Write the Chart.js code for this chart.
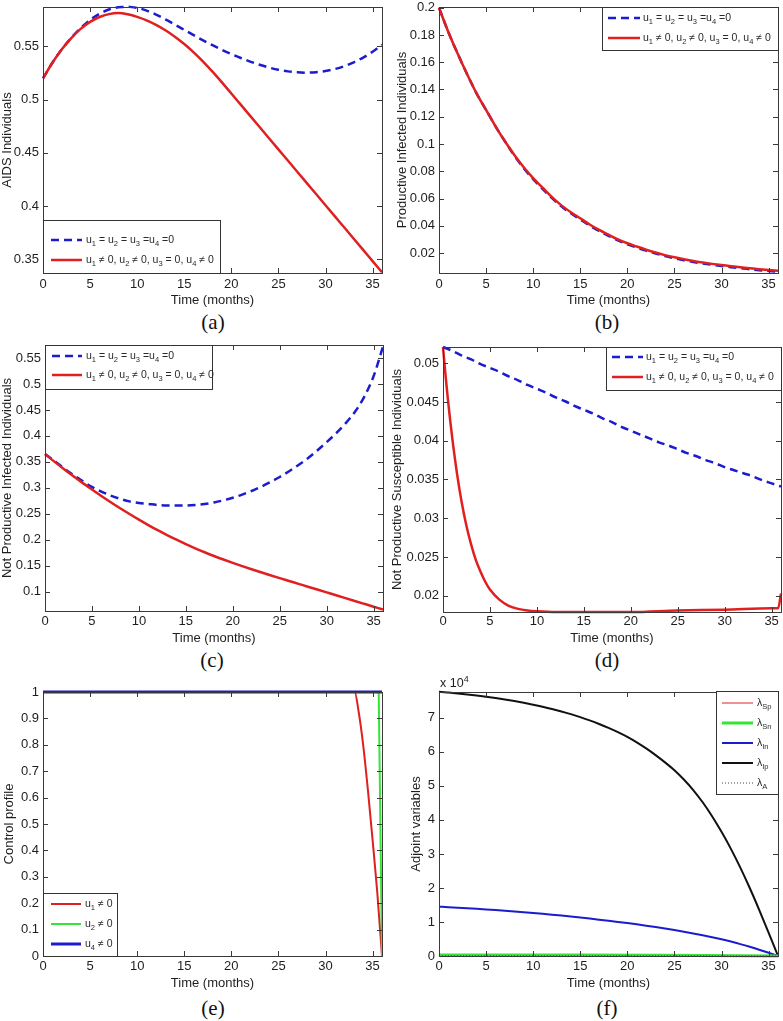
<!DOCTYPE html>
<html>
<head>
<meta charset="utf-8">
<script src="https://cdn.jsdelivr.net/npm/chart.js@4.4.1/dist/chart.umd.min.js"></script>
<style>
  body { margin: 0; background: #fff; width: 783px; height: 1021px; position: relative; overflow: hidden; }
  canvas { position: absolute; }
  .tag { position: absolute; font-family: 'Liberation Serif', 'Times New Roman', serif; font-size: 21px; color: #111;
         transform: translate(-50%, -50%); }
</style>
</head>
<body>
<div class="tag" style="left:213px;top:322px">(a)</div>
<div class="tag" style="left:607px;top:322px">(b)</div>
<div class="tag" style="left:212px;top:660px">(c)</div>
<div class="tag" style="left:607px;top:660px">(d)</div>
<div class="tag" style="left:213px;top:1008px">(e)</div>
<div class="tag" style="left:607px;top:1008px">(f)</div>
<script>
// time axis, months 0..36
const months = [0,1,2,3,4,5,6,7,8,9,10,11,12,13,14,15,16,17,18,19,20,21,22,23,24,25,26,27,28,29,30,31,32,33,34,35,36];
const monthTicks = [0,5,10,15,20,25,30,35];

// (a) AIDS individuals
const aidsNoControl = [0.520,0.5346,0.5472,0.5580,0.5672,0.5748,0.5806,0.5846,0.5868,0.5873,0.5862,0.5836,0.5799,0.5754,0.5705,0.5655,0.5605,0.5557,0.5511,0.5468,0.5428,0.5391,0.5357,0.5327,0.5301,0.5280,0.5265,0.5256,0.5253,0.5257,0.5268,0.5287,0.5314,0.5350,0.5395,0.5450,0.5515];
const aidsControl = [0.520,0.5346,0.5472,0.5578,0.5664,0.5730,0.5776,0.5803,0.5813,0.5801,0.5777,0.5744,0.5702,0.5651,0.5591,0.5522,0.5444,0.5357,0.5262,0.5161,0.5057,0.4952,0.4847,0.4742,0.4637,0.4532,0.4427,0.4322,0.4217,0.4112,0.4007,0.3902,0.3797,0.3692,0.3587,0.3482,0.3377];
const aidsTicks = [0.35,0.4,0.45,0.5,0.55];

// (b) productive infected
const prodNoControl = [0.200,0.182,0.166,0.151,0.137,0.125,0.113,0.102,0.0915,0.0823,0.0742,0.0671,0.0603,0.0543,0.0492,0.0447,0.0402,0.0362,0.0327,0.0293,0.0265,0.0241,0.0218,0.0197,0.0178,0.0162,0.0148,0.0135,0.0124,0.0114,0.0105,0.0097,0.0089,0.0082,0.0075,0.0069,0.0063];
const prodControl = [0.200,0.182,0.166,0.151,0.137,0.125,0.113,0.102,0.092,0.083,0.075,0.068,0.061,0.055,0.050,0.0455,0.041,0.037,0.0335,0.030,0.0272,0.0248,0.0225,0.0204,0.0185,0.0169,0.0155,0.0142,0.0131,0.0121,0.0112,0.0104,0.0096,0.0089,0.0082,0.0076,0.0071];
const prodTicks = [0.02,0.04,0.06,0.08,0.1,0.12,0.14,0.16,0.18,0.2];

// (c) not productive infected
const npInfNoControl = [0.365,0.352,0.338,0.325,0.313,0.302,0.293,0.285,0.279,0.274,0.271,0.269,0.267,0.266,0.266,0.266,0.267,0.269,0.272,0.276,0.281,0.287,0.294,0.302,0.311,0.321,0.332,0.344,0.357,0.372,0.388,0.405,0.424,0.446,0.475,0.515,0.572];
const npInfControl = [0.365,0.3505,0.3364,0.3228,0.3096,0.2968,0.2844,0.2724,0.2608,0.2496,0.2388,0.2284,0.2185,0.2091,0.2002,0.1917,0.1837,0.1761,0.1689,0.1621,0.1556,0.1494,0.1434,0.1376,0.1319,0.1263,0.1208,0.1153,0.1098,0.1043,0.0988,0.0933,0.0878,0.0823,0.0768,0.0713,0.0658];
const npInfTicks = [0.1,0.15,0.2,0.25,0.3,0.35,0.4,0.45,0.5,0.55];

// (d) not productive susceptible
const npSusNoControl = [0.0521,0.0516,0.0510,0.0505,0.0499,0.0494,0.0489,0.0483,0.0478,0.0472,0.0467,0.0462,0.0456,0.0451,0.0445,0.0440,0.0435,0.0429,0.0424,0.0418,0.0413,0.0408,0.0403,0.0398,0.0394,0.0389,0.0384,0.0380,0.0375,0.0371,0.0366,0.0362,0.0358,0.0354,0.0349,0.0345,0.0341];
const npSusCtrlTime = [0,0.25,0.5,0.75,1,1.5,2,2.5,3,3.5,4,4.5,5,6,7,8,9,10,12,15,20,25,30,35,35.7,36];
const npSusControl = [0.0521,0.0487,0.0456,0.0428,0.0402,0.0357,0.0320,0.0290,0.0266,0.0246,0.0231,0.0218,0.0208,0.0195,0.0187,0.0183,0.0181,0.0180,0.0179,0.0179,0.0179,0.0181,0.0182,0.0184,0.0184,0.0203];
const npSusTicks = [0.02,0.025,0.03,0.035,0.04,0.045,0.05];

// (e) control profiles
const u1Time = [0,33.1,33.5,34,34.5,35,35.5,36];
const u1Vals = [1,1,0.93,0.8,0.63,0.44,0.24,0];
const u2Time = [0,35.65,36];
const u2Vals = [1,1,0];
const u4Time = [0,36];
const u4Vals = [1,1];
const ctrlTicks = [0,0.1,0.2,0.3,0.4,0.5,0.6,0.7,0.8,0.9,1];

// (f) adjoint variables, in units of 10^4
const lamIp = [7.77,7.746,7.719,7.689,7.656,7.620,7.581,7.539,7.493,7.443,7.388,7.328,7.262,7.189,7.109,7.021,6.925,6.820,6.705,6.579,6.439,6.279,6.101,5.905,5.691,5.459,5.189,4.879,4.519,4.109,3.649,3.149,2.599,1.999,1.359,0.689,0];
const lamIn = [1.45,1.436,1.421,1.405,1.388,1.370,1.351,1.331,1.310,1.288,1.265,1.240,1.214,1.187,1.159,1.130,1.100,1.069,1.036,1.002,0.967,0.930,0.891,0.850,0.807,0.762,0.714,0.663,0.609,0.552,0.492,0.424,0.350,0.270,0.184,0.094,0];
const flatTime = [0,12,24,36];
const lamSp = [0.01,0.01,0.01,0];
const lamSn = [0.03,0.03,0.025,0];
const lamA = [0.005,0.005,0.005,0];
const adjTicks = [0,1,2,3,4,5,6,7];

const FONT = "'Liberation Sans', Arial, Helvetica, sans-serif";
const TXT = '#1e1e1e';
const BLUE = '#1c1ccf', RED = '#e02020', GREEN = '#33e633', BLACK = '#111111';

function pts(xs, ys) { return xs.map((x, i) => ({ x: x, y: ys[i] })); }
function fmt(v) { return String(Math.round(v * 10000) / 10000); }

// draw text where _x / _{xy} is a subscript and ^x a superscript
function drawRich(ctx, text, x, y, size) {
  const re = /([_^])(\{[^}]*\}|.)/g;
  const parts = [];
  let last = 0, m;
  while ((m = re.exec(text))) {
    if (m.index > last) parts.push([text.slice(last, m.index), 0]);
    let s = m[2];
    if (s[0] === '{') s = s.slice(1, -1);
    parts.push([s, m[1] === '_' ? 1 : -1]);
    last = re.lastIndex;
  }
  if (last < text.length) parts.push([text.slice(last), 0]);
  ctx.textBaseline = 'middle';
  ctx.textAlign = 'left';
  parts.forEach(([s, k]) => {
    const fs = k ? size * 0.72 : size;
    ctx.font = fs + 'px ' + FONT;
    ctx.fillText(s, x, y + k * size * 0.38);
    x += ctx.measureText(s).width;
  });
}

// matlab-like box with inward ticks, plus a boxed legend inside the axes
const frame = {
  id: 'frame',
  afterDraw(chart, args, opts) {
    const { ctx, chartArea: a, scales } = chart;
    const [ox, oy] = opts.origin;
    ctx.save();
    ctx.strokeStyle = '#3a3a3a';
    ctx.lineWidth = 1;
    ctx.beginPath();
    const tk = 5;
    scales.x.ticks.forEach(t => {
      const px = Math.round(scales.x.getPixelForValue(t.value)) + 0.5;
      ctx.moveTo(px, a.bottom); ctx.lineTo(px, a.bottom - tk);
      ctx.moveTo(px, a.top); ctx.lineTo(px, a.top + tk);
    });
    scales.y.ticks.forEach(t => {
      const py = Math.round(scales.y.getPixelForValue(t.value)) + 0.5;
      ctx.moveTo(a.left, py); ctx.lineTo(a.left + tk, py);
      ctx.moveTo(a.right, py); ctx.lineTo(a.right - tk, py);
    });
    ctx.stroke();
    ctx.strokeRect(Math.round(a.left) + 0.5, Math.round(a.top) + 0.5, Math.round(a.right - a.left), Math.round(a.bottom - a.top));

    const lg = opts.legend;
    if (lg) {
      const [l, t, r, b] = lg.box;
      ctx.fillStyle = '#fff';
      ctx.fillRect(l - ox, t - oy, r - l, b - t);
      ctx.strokeStyle = '#333';
      ctx.lineWidth = 1;
      ctx.setLineDash([]);
      ctx.strokeRect(l - ox + 0.5, t - oy + 0.5, r - l - 1, b - t - 1);
      lg.items.forEach((it, i) => {
        const ds = chart.data.datasets[it.ds];
        const y = lg.rows[i] - oy;
        ctx.beginPath();
        ctx.strokeStyle = ds.borderColor;
        ctx.lineWidth = ds.borderWidth;
        ctx.setLineDash(ds.borderDash || []);
        ctx.moveTo(lg.sample[0] - ox, y);
        ctx.lineTo(lg.sample[1] - ox, y);
        ctx.stroke();
        ctx.setLineDash([]);
        ctx.fillStyle = '#2a2a2a';
        drawRich(ctx, it.label, lg.textX - ox, y, lg.size);
      });
    }
    if (opts.extra) {
      ctx.fillStyle = TXT;
      drawRich(ctx, opts.extra.text, opts.extra.x - ox, opts.extra.y - oy, opts.extra.size);
    }
    ctx.restore();
  }
};

function makePanel(p) {
  const [cx, cy, cw, ch] = p.box;
  const [L, T, R, B] = p.area;
  const cv = document.createElement('canvas');
  cv.width = cw; cv.height = ch;
  cv.style.left = cx + 'px'; cv.style.top = cy + 'px';
  cv.style.width = cw + 'px'; cv.style.height = ch + 'px';
  document.body.appendChild(cv);
  const font = { family: FONT, size: 13 };
  new Chart(cv, {
    type: 'line',
    data: { datasets: p.datasets },
    options: {
      responsive: false,
      animation: false,
      events: [],
      layout: { padding: { top: T - cy, right: cx + cw - R, left: 0, bottom: 0 } },
      elements: { point: { radius: 0 }, line: { cubicInterpolationMode: 'monotone' } },
      plugins: {
        legend: { display: false },
        tooltip: { enabled: false },
        frame: { origin: [cx, cy], legend: p.legend, extra: p.extra }
      },
      scales: {
        x: {
          type: 'linear', min: 0, max: 36,
          grid: { display: false, drawTicks: false }, border: { display: false },
          afterBuildTicks: s => { s.ticks = monthTicks.map(v => ({ value: v })); },
          afterFit: s => { s.height = cy + ch - B; s.paddingLeft = 0; s.paddingRight = 0; },
          ticks: { padding: p.xPad, color: TXT, font: font, maxRotation: 0, autoSkip: false, callback: v => fmt(v) },
          title: { display: true, text: 'Time (months)', padding: 0, color: TXT, font: font }
        },
        y: {
          type: 'linear', min: p.yRange[0], max: p.yRange[1],
          grid: { display: false, drawTicks: false }, border: { display: false },
          afterBuildTicks: s => { s.ticks = p.yTicks.map(v => ({ value: v })); },
          afterFit: s => { s.width = L - cx; s.paddingTop = 0; s.paddingBottom = 0; },
          ticks: { padding: 4, color: TXT, font: font, autoSkip: false, callback: v => fmt(v) },
          title: { display: true, text: p.yTitle, padding: { top: p.yTitlePad, bottom: 0 }, color: TXT, font: font }
        }
      }
    },
    plugins: [frame]
  });
}

const dashed = (data) => ({ data: data, borderColor: BLUE, borderWidth: 2.5, borderDash: [8, 5], order: 1, clip: 3 });
const solid = (data) => ({ data: data, borderColor: RED, borderWidth: 2.5, order: 0, clip: 3 });
const twoLegend = (box, rows, sample, textX) => ({
  box: box, rows: rows, sample: sample, textX: textX, size: 10.5,
  items: [{ ds: 0, label: 'u_1 = u_2 = u_3 =u_4 =0' }, { ds: 1, label: 'u_1 \u2260 0, u_2 \u2260 0, u_3 = 0, u_4 \u2260 0' }]
});

makePanel({
  box: [0, 0, 390, 308], area: [43, 7, 382, 273], xPad: 4,
  yRange: [0.337, 0.587], yTicks: aidsTicks, yTitle: 'AIDS Individuals', yTitlePad: 0,
  datasets: [dashed(pts(months, aidsNoControl)), solid(pts(months, aidsControl))],
  legend: twoLegend([43, 220, 221, 274], [240, 260], [51, 82], 86)
});

makePanel({
  box: [390, 0, 393, 308], area: [439, 7, 778, 273], xPad: 4,
  yRange: [0.0054, 0.2005], yTicks: prodTicks, yTitle: 'Productive Infected Individuals', yTitlePad: 5,
  datasets: [dashed(pts(months, prodNoControl)), solid(pts(months, prodControl))],
  legend: twoLegend([602, 7, 779, 51], [18, 38], [608, 640], 643)
});

makePanel({
  box: [0, 336, 390, 310], area: [45, 345, 383, 611], xPad: 3,
  yRange: [0.063, 0.575], yTicks: npInfTicks, yTitle: 'Not Productive Infected Individuals', yTitlePad: 0,
  datasets: [dashed(pts(months, npInfNoControl)), solid(pts(months, npInfControl))],
  legend: twoLegend([45, 345, 213, 390], [356, 375], [52, 82], 86)
});

makePanel({
  box: [390, 336, 393, 310], area: [443, 347, 781, 612], xPad: 2,
  yRange: [0.0179, 0.0521], yTicks: npSusTicks, yTitle: 'Not Productive Susceptible Individuals', yTitlePad: 0,
  datasets: [dashed(pts(months, npSusNoControl)), solid(pts(npSusCtrlTime, npSusControl))],
  legend: twoLegend([606, 347, 782, 391], [357, 377], [612, 643], 646)
});

makePanel({
  box: [0, 680, 390, 311], area: [43, 692, 382, 956], xPad: 3,
  yRange: [0, 1], yTicks: ctrlTicks, yTitle: 'Control profile', yTitlePad: 2,
  datasets: [
    { data: pts(u1Time, u1Vals), borderColor: RED, borderWidth: 2, order: 2, clip: 4 },
    { data: pts(u2Time, u2Vals), borderColor: GREEN, borderWidth: 2, order: 1, cubicInterpolationMode: 'default', tension: 0, clip: 4 },
    { data: pts(u4Time, u4Vals), borderColor: BLUE, borderWidth: 3, order: 0, clip: 4 }
  ],
  legend: {
    box: [43, 893, 118, 957], rows: [904, 924, 944], sample: [51, 81], textX: 85, size: 10.5,
    items: [{ ds: 0, label: 'u_1 \u2260 0' }, { ds: 1, label: 'u_2 \u2260 0' }, { ds: 2, label: 'u_4 \u2260 0' }]
  }
});

makePanel({
  box: [390, 670, 393, 321], area: [439, 692, 778, 956], xPad: 3,
  yRange: [0, 7.76], yTicks: adjTicks, yTitle: 'Adjoint variables', yTitlePad: 19,
  datasets: [
    { data: pts(flatTime, lamSp), borderColor: RED, borderWidth: 1, order: 3, clip: 3 },
    { data: pts(flatTime, lamSn), borderColor: GREEN, borderWidth: 3, order: 1, clip: 3 },
    { data: pts(months, lamIn), borderColor: BLUE, borderWidth: 2, order: 2, clip: 3 },
    { data: pts(months, lamIp), borderColor: BLACK, borderWidth: 2, order: 2, clip: 3 },
    { data: pts(flatTime, lamA), borderColor: '#444', borderWidth: 1, borderDash: [1, 2], order: 0, clip: 3 }
  ],
  legend: {
    box: [716, 691, 779, 795], rows: [703, 723, 743, 763, 783], sample: [722, 753], textX: 757, size: 10.5,
    items: [{ ds: 0, label: '\u03bb_{Sp}' }, { ds: 1, label: '\u03bb_{Sn}' }, { ds: 2, label: '\u03bb_{In}' },
            { ds: 3, label: '\u03bb_{Ip}' }, { ds: 4, label: '\u03bb_A' }]
  },
  extra: { text: 'x 10^4', x: 440, y: 684, size: 12.5 }
});
</script>
</body>
</html>
